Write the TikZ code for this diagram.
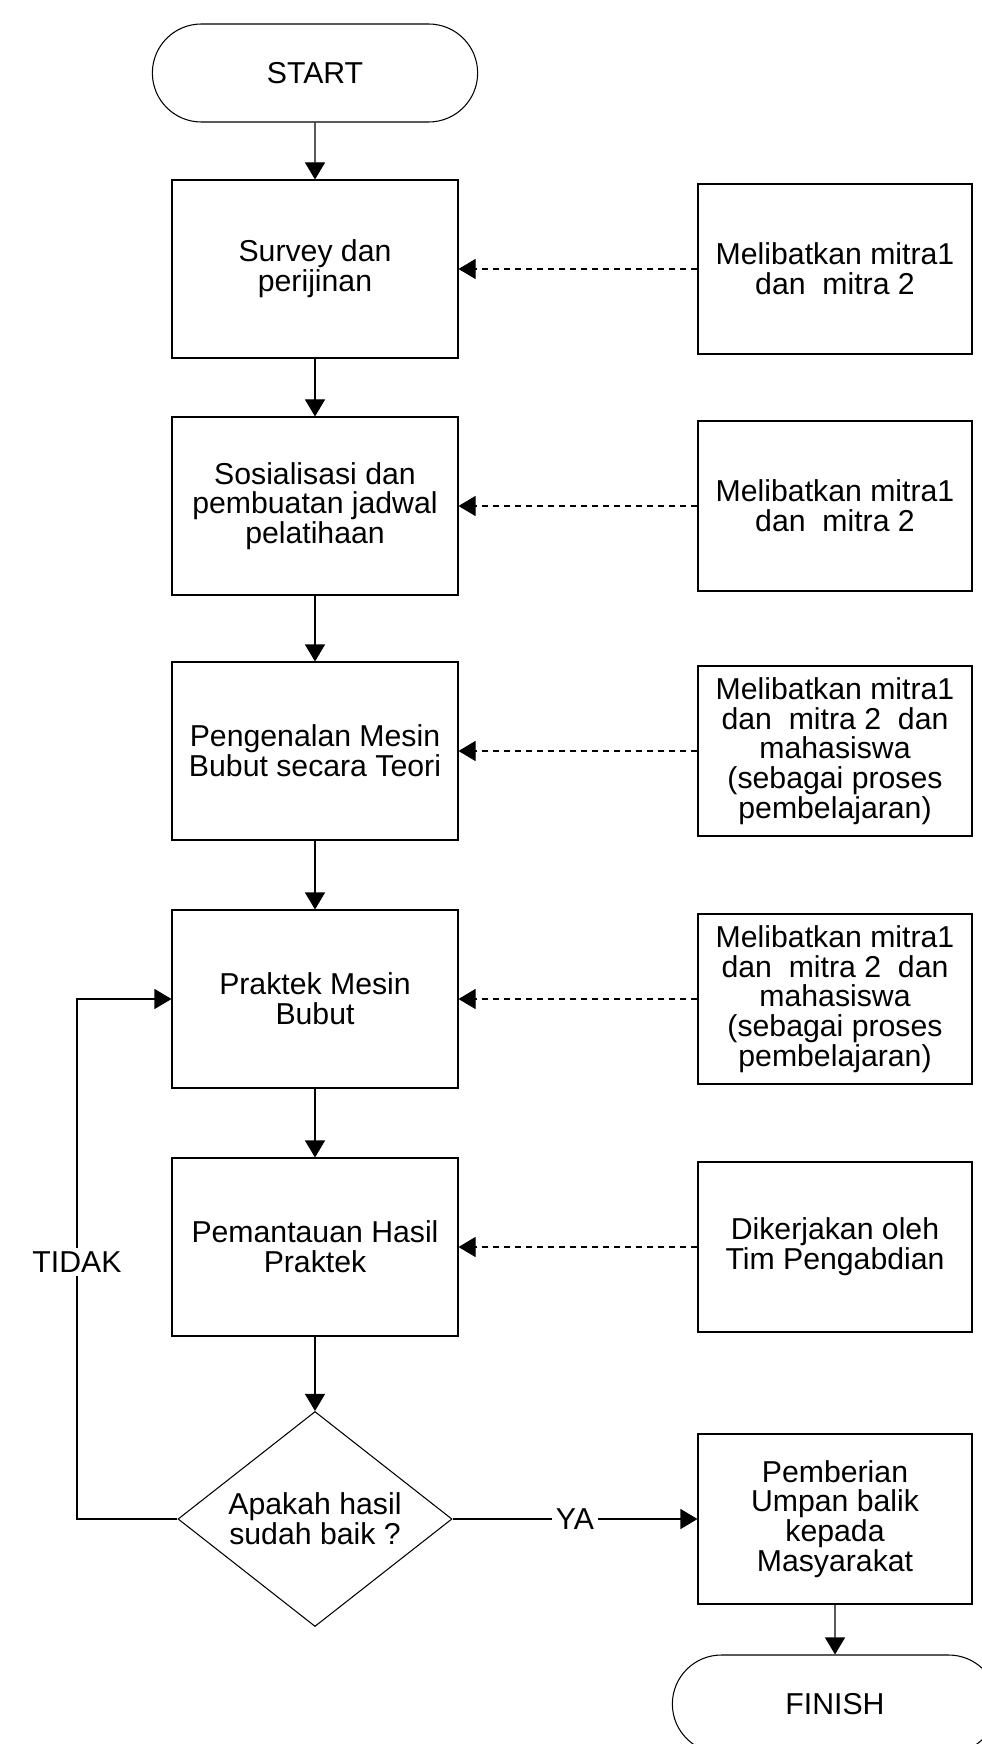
\documentclass[tikz,border=0pt]{standalone}
\usepackage{fontspec}
\setmainfont{Liberation Sans}
\usetikzlibrary{shapes.geometric,shapes.misc,arrows.meta}

\begin{document}
\begin{tikzpicture}[every node/.style={align=center,font=\fontsize{17.2pt}{16.9pt}\selectfont},
  line width=0.6pt,>={Triangle[length=0.34cm,width=0.4cm]},
  term/.style={draw,rounded rectangle,minimum width=6.74cm,minimum height=1.96cm},
  proc/.style={draw,rectangle,minimum width=5.72cm,minimum height=3.56cm},
  note/.style={draw,rectangle,minimum width=5.48cm,minimum height=3.4cm},
  dec/.style={draw,diamond,shape aspect=1.27,minimum width=5.48cm,minimum height=4.3cm,inner sep=0pt},
  lbl/.style={fill=white,inner sep=2pt},
  dashline/.style={draw,->,dash pattern=on 0.12cm off 0.1cm}]
  %\draw[help lines] (0,0) grid (19.62,-34.88);
  \useasboundingbox (0,0) rectangle (19.62,-34.88);

  \draw ( 6.3, -1.46) node[term](start) {START};

  \draw ( 6.3, -5.38) node[proc](survey)  {Survey dan\\perijinan};
  \draw ( 6.3,-10.12) node[proc](sosial)  {Sosialisasi dan\\pembuatan jadwal\\pelatihaan};
  \draw ( 6.3,-15.02) node[proc](teori)   {Pengenalan Mesin\\Bubut secara Teori};
  \draw ( 6.3,-19.98) node[proc](praktek) {Praktek Mesin\\Bubut};
  \draw ( 6.3,-24.94) node[proc](pantau)  {Pemantauan Hasil\\Praktek};
  \draw ( 6.3,-30.38) node[dec](cek)      {Apakah hasil\\sudah baik ?};

  \draw (16.7, -5.38) node[note](m1) {Melibatkan mitra1\\dan~ mitra 2};
  \draw (16.7,-10.12) node[note](m2) {Melibatkan mitra1\\dan~ mitra 2};
  \draw (16.7,-15.02) node[note](m3) {Melibatkan mitra1\\dan~ mitra 2~ dan\\mahasiswa\\(sebagai proses\\pembelajaran)};
  \draw (16.7,-19.98) node[note](m4) {Melibatkan mitra1\\dan~ mitra 2~ dan\\mahasiswa\\(sebagai proses\\pembelajaran)};
  \draw (16.7,-24.94) node[note](m5) {Dikerjakan oleh\\Tim Pengabdian};

  \draw (16.7,-30.38) node[note](umpan)  {Pemberian\\Umpan balik\\kepada\\Masyarakat};
  \draw (16.7,-34.08) node[term](finish) {FINISH};

  \path[draw,->] (start) -- (survey);
  \path[draw,->] (survey) -- (sosial);
  \path[draw,->] (sosial) -- (teori);
  \path[draw,->] (teori) -- (praktek);
  \path[draw,->] (praktek) -- (pantau);
  \path[draw,->] (pantau) -- (cek);

  \path[dashline] (m1) -- (survey);
  \path[dashline] (m2) -- (sosial);
  \path[dashline] (m3) -- (teori);
  \path[dashline] (m4) -- (praktek);
  \path[dashline] (m5) -- (pantau);

  \path[draw,->] (cek.east) -- node[lbl]{YA} (umpan);
  \path[draw,->] (umpan) -- (finish);

  \coordinate (bend) at (1.54,-25.24);
  \path[draw,->] (cek.west) -| (bend) |- (praktek.west);
  \draw (bend) node[lbl](tidak) {TIDAK};

\end{tikzpicture}
\end{document}
